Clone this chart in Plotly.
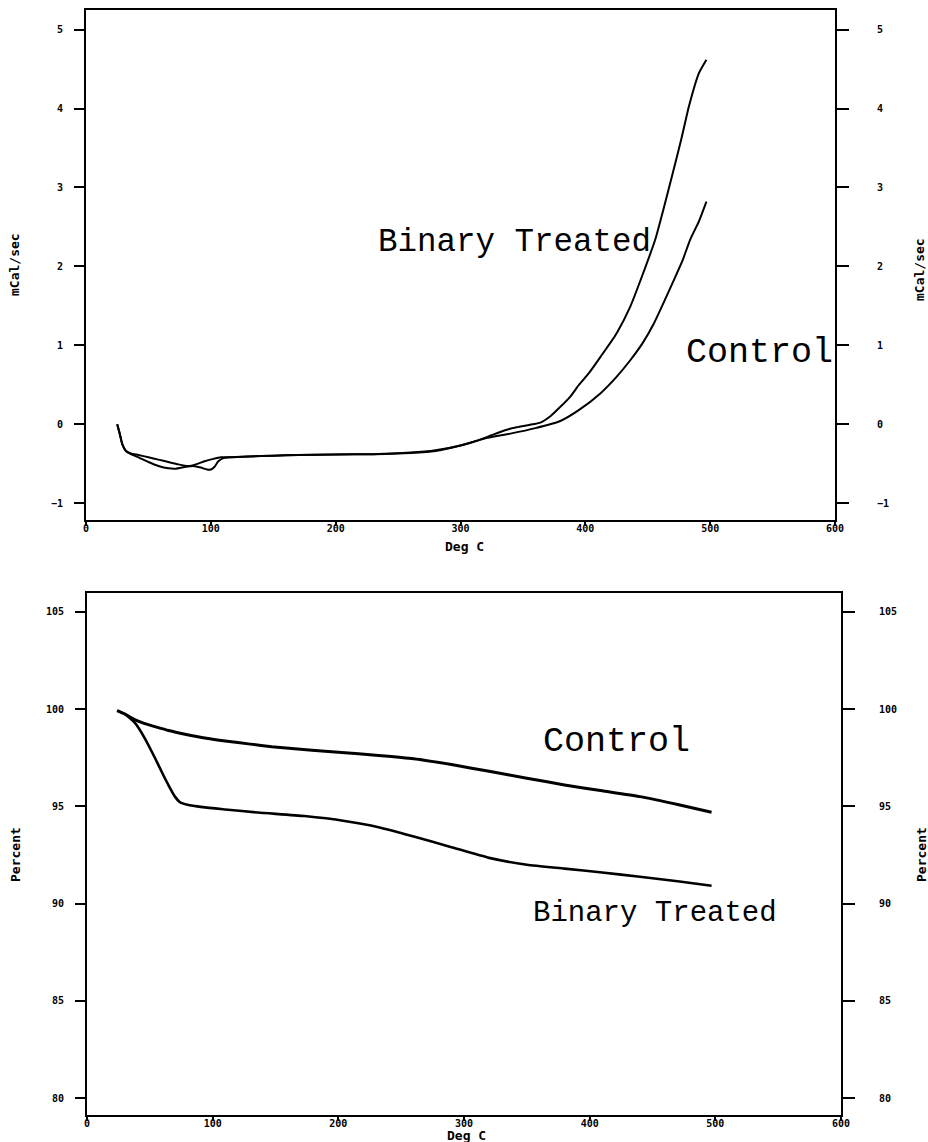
import plotly.graph_objects as go

# ---- Top panel (DSC, mCal/sec) ----
dsc_binary_T = [25, 27, 29, 32, 36, 42, 50, 58, 66, 72, 80, 86, 92, 97, 100, 103, 106, 110, 115, 130, 150, 170,
                200, 230, 260, 280, 300, 315, 325, 335, 345, 355, 364, 372, 380, 388, 395, 403, 412, 425, 436, 446,
                456, 463, 470, 477, 483, 491, 497]
dsc_binary_Y = [0.0, -0.12, -0.25, -0.34, -0.38, -0.42, -0.48, -0.53, -0.56, -0.565, -0.54, -0.53, -0.55, -0.575,
                -0.575, -0.54, -0.47, -0.43, -0.42, -0.41, -0.40, -0.39, -0.385, -0.38, -0.36, -0.33, -0.27, -0.20,
                -0.14, -0.08, -0.04, -0.01, 0.02, 0.10, 0.22, 0.35, 0.50, 0.65, 0.85, 1.15, 1.49, 1.90, 2.34, 2.75,
                3.18, 3.62, 4.03, 4.45, 4.62]
dsc_control_T = [25, 27, 29, 32, 36, 42, 50, 58, 66, 74, 82, 88, 95, 102, 108, 115, 130, 150, 170, 200, 230, 260,
                 280, 300, 320, 340, 360, 380, 395, 412, 425, 436, 446, 455, 463, 471, 478, 484, 491, 497]
dsc_control_Y = [0.0, -0.12, -0.25, -0.34, -0.37, -0.39, -0.42, -0.45, -0.48, -0.51, -0.53, -0.51, -0.47, -0.44,
                 -0.42, -0.42, -0.41, -0.40, -0.39, -0.385, -0.38, -0.365, -0.34, -0.27, -0.18, -0.12, -0.05, 0.04,
                 0.18, 0.39, 0.60, 0.81, 1.03, 1.28, 1.55, 1.83, 2.08, 2.34, 2.57, 2.82]

# ---- Bottom panel (TGA, Percent) ----
tga_binary_T = [24, 30, 38, 46, 54, 60, 65, 70, 74, 80, 92, 110, 136, 173, 205, 232, 260, 290, 320, 350, 380, 410,
                440, 470, 497]
tga_binary_Y = [99.92, 99.75, 99.3, 98.5, 97.5, 96.7, 96.07, 95.5, 95.21, 95.08, 94.96, 94.84, 94.68, 94.5, 94.25,
                93.93, 93.45, 92.9, 92.35, 92.0, 91.8, 91.6, 91.38, 91.15, 90.92]
tga_control_T = [24, 30, 38, 46, 54, 65, 78, 95, 110, 130, 147, 179, 200, 232, 260, 290, 320, 350, 380, 410, 440,
                 470, 497]
tga_control_Y = [99.92, 99.75, 99.46, 99.25, 99.1, 98.9, 98.71, 98.5, 98.36, 98.2, 98.07, 97.89, 97.78, 97.62,
                 97.45, 97.15, 96.8, 96.45, 96.1, 95.8, 95.5, 95.1, 94.7]

x_ticks = [0, 100, 200, 300, 400, 500, 600]
dsc_ticks = [-1, 0, 1, 2, 3, 4, 5]
tga_ticks = [80, 85, 90, 95, 100, 105]

W, H = 928, 1142
top_x = [86 / W, 835 / W]
top_y = [1 - 520 / H, 1 - 10 / H]
bot_x = [87 / W, 841 / W]
bot_y = [1 - 1115 / H, 1 - 593 / H]

tick_font = dict(family="DejaVu Sans Mono", size=10, color="black", weight="bold")
title_font = dict(family="DejaVu Sans Mono", size=13, color="black", weight="bold")


def ann_font(size):
    return dict(family="Liberation Mono", size=size, color="black")


fig = go.Figure()
fig.add_trace(go.Scatter(x=dsc_binary_T, y=dsc_binary_Y, mode="lines",
                         line=dict(color="black", width=2, shape="spline", smoothing=0.5),
                         xaxis="x", yaxis="y", showlegend=False))
fig.add_trace(go.Scatter(x=dsc_control_T, y=dsc_control_Y, mode="lines",
                         line=dict(color="black", width=2, shape="spline", smoothing=0.5),
                         xaxis="x", yaxis="y", showlegend=False))
fig.add_trace(go.Scatter(x=dsc_control_T, y=dsc_control_Y, mode="lines", line=dict(width=0), opacity=0,
                         hoverinfo="skip", xaxis="x", yaxis="y2", showlegend=False))
fig.add_trace(go.Scatter(x=tga_binary_T, y=tga_binary_Y, mode="lines",
                         line=dict(color="black", width=2.6, shape="spline", smoothing=0.5),
                         xaxis="x2", yaxis="y3", showlegend=False))
fig.add_trace(go.Scatter(x=tga_control_T, y=tga_control_Y, mode="lines",
                         line=dict(color="black", width=3, shape="spline", smoothing=0.5),
                         xaxis="x2", yaxis="y3", showlegend=False))
fig.add_trace(go.Scatter(x=tga_control_T, y=tga_control_Y, mode="lines", line=dict(width=0), opacity=0,
                         hoverinfo="skip", xaxis="x2", yaxis="y4", showlegend=False))

xcommon = dict(range=[0, 600], tickvals=x_ticks, ticks="outside", ticklen=4, tickwidth=1.5, tickcolor="black",
               showline=True, linecolor="black", linewidth=2, mirror=True, showgrid=False, zeroline=False,
               tickfont=tick_font, automargin=False, fixedrange=True, ticklabelstandoff=-6)
ycommon = dict(ticks="outside", tickwidth=1.5, tickcolor="black", showline=True, linecolor="black", linewidth=2,
               showgrid=False, zeroline=False, tickfont=tick_font, automargin=False)

fig.update_layout(
    template="none",
    width=W, height=H,
    margin=dict(l=0, r=0, t=0, b=0),
    paper_bgcolor="white", plot_bgcolor="white",
    xaxis=dict(domain=top_x, anchor="y", **xcommon),
    yaxis=dict(domain=top_y, anchor="x", range=[-1.215, 5.25], tickvals=dsc_ticks, ticklen=10,
               ticklabelstandoff=9, **ycommon),
    yaxis2=dict(overlaying="y", side="right", anchor="x", range=[-1.215, 5.25], tickvals=dsc_ticks, ticklen=12,
                ticklabelstandoff=26, **ycommon),
    xaxis2=dict(domain=bot_x, anchor="y3", **xcommon),
    yaxis3=dict(domain=bot_y, anchor="x2", range=[79.13, 105.97], tickvals=tga_ticks, ticklen=10,
                ticklabelstandoff=9, **ycommon),
    yaxis4=dict(overlaying="y3", side="right", anchor="x2", range=[79.13, 105.97], tickvals=tga_ticks,
                ticklen=12, ticklabelstandoff=22, **ycommon),
)

annotations = [
    dict(text="Binary Treated", x=514 / W, y=1 - 242 / H, font=ann_font(32.5)),
    dict(text="Control", x=759 / W, y=1 - 353 / H, font=ann_font(35)),
    dict(text="Control", x=616 / W, y=1 - 742 / H, font=ann_font(35)),
    dict(text="Binary Treated", x=655 / W, y=1 - 913 / H, font=ann_font(29)),
    dict(text="mCal/sec", x=15 / W, y=1 - 265 / H, textangle=-90, font=title_font),
    dict(text="mCal/sec", x=920 / W, y=1 - 270 / H, textangle=-90, font=title_font),
    dict(text="Percent", x=15 / W, y=1 - 855 / H, textangle=-90, font=title_font),
    dict(text="Percent", x=921 / W, y=1 - 855 / H, textangle=-90, font=title_font),
    dict(text="Deg C", x=464 / W, y=1 - 546 / H, font=title_font),
    dict(text="Deg C", x=466 / W, y=1 - 1135 / H, font=title_font),
]
for a in annotations:
    a.update(xref="paper", yref="paper", showarrow=False, xanchor="center", yanchor="middle")
fig.update_layout(annotations=annotations)

fig.write_html("out.html")
